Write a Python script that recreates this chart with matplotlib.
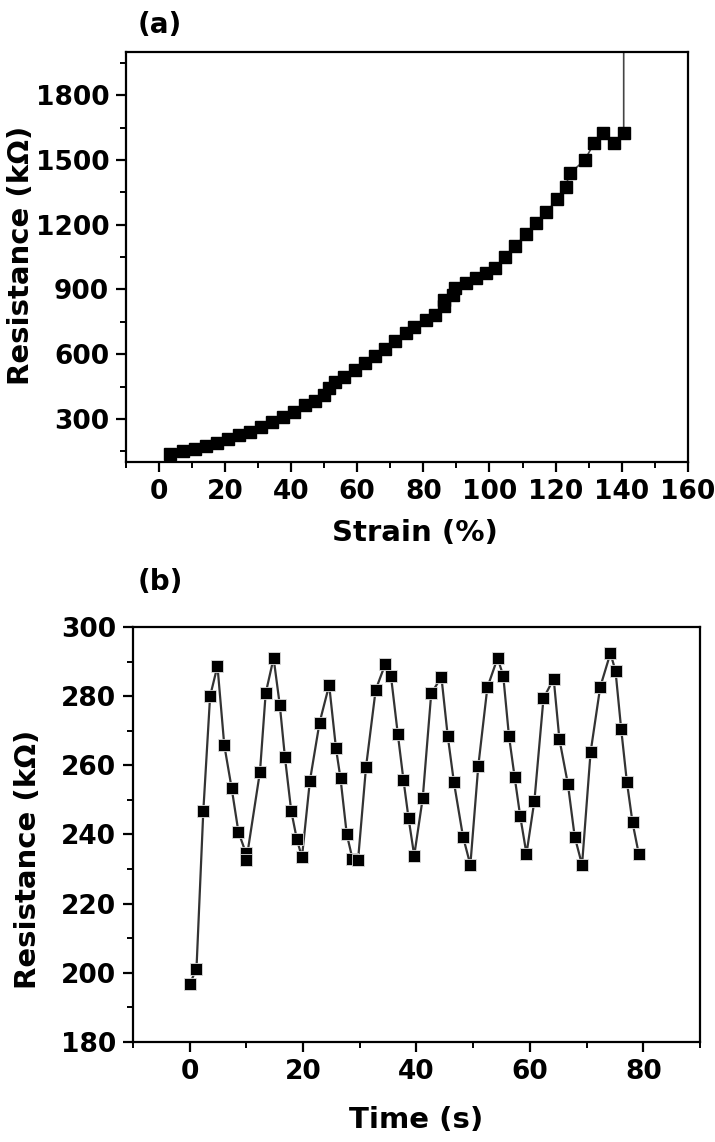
import matplotlib
matplotlib.use('Agg')
import matplotlib.pyplot as plt
from matplotlib.ticker import MultipleLocator

# Panel (a): resistance vs strain
strain = [3.5, 7.4, 10.8, 14.1, 17.5, 20.8, 24.2, 27.6, 30.9, 34.3, 37.6, 41.0,
          44.3, 47.1, 49.9, 51.5, 53.3, 56.1, 59.2, 62.3, 65.3, 68.4, 71.5, 74.6,
          77.3, 80.7, 83.5, 86.1, 86.3, 89.1, 89.7, 92.8, 95.8, 98.8, 101.7, 104.8,
          107.8, 110.9, 114.0, 117.1, 120.4, 123.0, 124.3, 128.8, 131.6, 134.4,
          137.8, 140.6, 140.6]
res_a = [138, 149, 161, 175, 190, 207, 225, 241, 264, 287, 310, 333,
         364, 385, 410, 445, 470, 495, 528, 560, 592, 625, 660, 698,
         727, 758, 781, 822, 853, 876, 905, 928, 954, 977, 1000, 1049,
         1101, 1155, 1206, 1257, 1317, 1376, 1438, 1499, 1577, 1626,
         1577, 1623, 5000]

# Panel (b): resistance vs time (cycling)
time_s = [0.0, 1.2, 2.4, 3.6, 4.9, 6.1, 7.4, 8.6, 9.9, 10.0, 12.4, 13.4, 14.8,
          15.9, 16.8, 17.9, 18.9, 19.8, 21.2, 22.9, 24.6, 25.8, 26.6, 27.7, 28.7,
          29.7, 31.1, 32.8, 34.5, 35.5, 36.7, 37.7, 38.6, 39.6, 41.1, 42.6, 44.4,
          45.5, 46.6, 48.2, 49.5, 50.9, 52.5, 54.3, 55.3, 56.3, 57.3, 58.3, 59.4,
          60.8, 62.4, 64.2, 65.2, 66.7, 67.9, 69.2, 70.7, 72.4, 74.2, 75.1, 76.1,
          77.1, 78.1, 79.2]
res_b = [196.7, 201.2, 246.7, 280.0, 288.7, 265.8, 253.4, 240.7, 234.7, 232.6,
         258.2, 280.8, 291.0, 277.3, 262.3, 246.9, 238.6, 233.4, 255.5, 272.3,
         283.2, 264.9, 256.2, 240.1, 233.0, 232.7, 259.5, 281.8, 289.3, 285.8,
         269.1, 255.8, 244.7, 233.9, 250.5, 280.8, 285.5, 268.6, 255.1, 239.4,
         231.2, 259.8, 282.5, 291.0, 285.9, 268.6, 256.7, 245.2, 234.4, 249.8,
         279.4, 285.0, 267.6, 254.6, 239.4, 231.2, 263.7, 282.6, 292.4, 287.3,
         270.5, 255.3, 243.5, 234.4]

plt.rcParams['font.family'] = ['DejaVu Sans']
plt.rcParams['font.weight'] = 'bold'

fig = plt.figure(figsize=(7.15, 11.42), dpi=100)
ax1 = fig.add_axes([0.176, 0.5954, 0.786, 0.359])
ax2 = fig.add_axes([0.186, 0.0876, 0.793, 0.3634])


def style_axes(ax):
    for side in ['left', 'bottom', 'top', 'right']:
        ax.spines[side].set_linewidth(1.6)
    ax.tick_params(which='major', direction='out', length=7, width=1.6,
                   labelsize=19, pad=5, top=False, right=False)
    ax.tick_params(which='minor', direction='out', length=4, width=1.4,
                   top=False, right=False)
    for lab in ax.get_xticklabels() + ax.get_yticklabels():
        lab.set_fontweight('bold')


ax1.plot(strain, res_a, color='#444444', lw=1.2, marker='s', ms=8.5,
         mfc='black', mec='black')
ax1.set_xlim(-10, 160)
ax1.set_ylim(100, 2000)
ax1.xaxis.set_major_locator(MultipleLocator(20))
ax1.xaxis.set_minor_locator(MultipleLocator(10))
ax1.set_yticks([300, 600, 900, 1200, 1500, 1800])
ax1.yaxis.set_minor_locator(MultipleLocator(150))
style_axes(ax1)
ax1.set_xlabel('Strain (%)', fontsize=21, fontweight='bold')
ax1.set_ylabel('Resistance (k\u03a9)', fontsize=21, fontweight='bold')
ax1.xaxis.set_label_coords(0.514, -0.14)
ax1.yaxis.set_label_coords(-0.162, 0.505)

ax2.plot(time_s, res_b, color='#333333', lw=1.6, marker='s', ms=8.5,
         mfc='black', mec='#dddddd', mew=0.6)
ax2.set_xlim(-10, 90)
ax2.set_ylim(180, 300)
ax2.xaxis.set_major_locator(MultipleLocator(20))
ax2.xaxis.set_minor_locator(MultipleLocator(10))
ax2.yaxis.set_major_locator(MultipleLocator(20))
ax2.yaxis.set_minor_locator(MultipleLocator(10))
style_axes(ax2)
ax2.set_xlabel('Time (s)', fontsize=21, fontweight='bold')
ax2.set_ylabel('Resistance (k\u03a9)', fontsize=21, fontweight='bold')
ax2.xaxis.set_label_coords(0.5, -0.155)
ax2.yaxis.set_label_coords(-0.16, 0.44)

fig.text(0.224, 0.978, '(a)', fontsize=20, fontweight='bold', ha='center', va='center')
fig.text(0.224, 0.49, '(b)', fontsize=20, fontweight='bold', ha='center', va='center')

fig.savefig('out.png', dpi=100)
